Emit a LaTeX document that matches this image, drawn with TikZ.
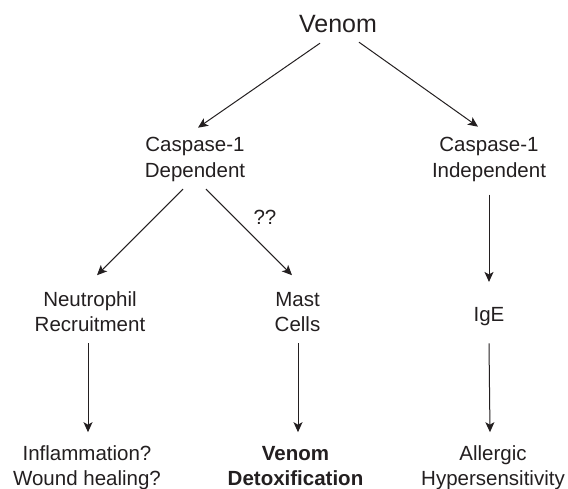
\documentclass[tikz,border=0pt]{standalone}
\usepackage{fontspec}
\setmainfont{Liberation Sans}
\usetikzlibrary{arrows.meta}
\definecolor{ink}{HTML}{231F20}
\begin{document}
\begin{tikzpicture}[x=1pt,y=-1pt,
  lbl/.style={inner sep=0pt, align=center, text=ink, font=\fontsize{20.5}{25.5}\selectfont},
  arr/.style={draw=ink, line width=1pt, -{Stealth[length=10pt,width=9pt,inset=2.5pt]}}]
\useasboundingbox (0,0) rectangle (568,489);
\node[lbl, font=\fontsize{25}{30}\selectfont] (venom) at (338,27) {\strut Venom\strut};
\node[lbl] (dep) at (195,159.4) {\strut Caspase-1\\Dependent\strut};
\node[lbl] (indep) at (489,159.4) {\strut Caspase-1\\Independent\strut};
\node[lbl] (neut) at (90,313.9) {\strut Neutrophil\\Recruitment\strut};
\node[lbl] (mast) at (297.5,313.9) {\strut Mast\\Cells\strut};
\node[lbl] (ige) at (489,315.9) {\strut IgE\strut};
\node[lbl] (infl) at (87,467.9) {\strut Inflammation?\\Wound healing?\strut};
\node[lbl, font=\fontsize{20.5}{25.5}\selectfont\bfseries] (detox) at (295.5,467.9) {\strut Venom\\Detoxification\strut};
\node[lbl] (allerg) at (493,467.9) {\strut Allergic\\Hypersensitivity\strut};
\node[lbl] (qq) at (265,219) {\strut ??\strut};

\draw[arr] ([shift={(-18,1)}]venom.south) -- ([shift={(3,-6)}]dep.north);
\draw[arr] ([shift={(21,0)}]venom.south) -- ([shift={(-11,-7)}]indep.north);
\draw[arr] ([shift={(-12,4)}]dep.south) -- ([shift={(7,-13)}]neut.north);
\draw[arr] ([shift={(11,4)}]dep.south) -- ([shift={(-5.5,-13)}]mast.north);
\draw[arr] ([shift={(0,9.5)}]indep.south) -- ([shift={(0,-21)}]ige.north);
\draw[arr] ([shift={(-2,3.5)}]neut.south) -- ([shift={(1,-10)}]infl.north);
\draw[arr] ([shift={(0.5,3.5)}]mast.south) -- ([shift={(2.5,-10)}]detox.north);
\draw[arr] ([shift={(0,14.5)}]ige.south) -- ([shift={(-3,-10)}]allerg.north);
\end{tikzpicture}
\end{document}
